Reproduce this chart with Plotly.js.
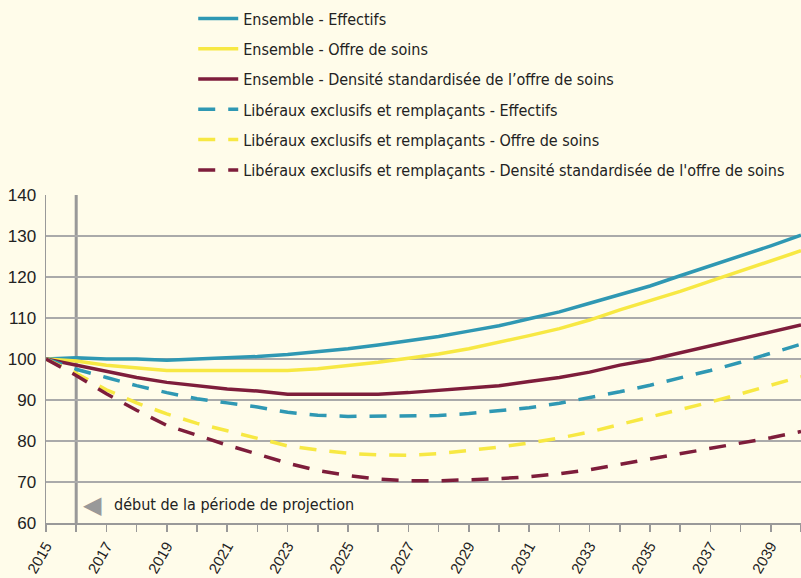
<!DOCTYPE html>
<html>
<head>
<meta charset="utf-8">
<script src="https://cdn.plot.ly/plotly-3.0.1.min.js"></script>
<style>
html,body{margin:0;padding:0;background:#fffcea;}
#chart{width:801px;height:578px;}
</style>
</head>
<body>
<div id="chart"></div>
<script>
const years = [2015,2016,2017,2018,2019,2020,2021,2022,2023,2024,2025,2026,2027,2028,2029,2030,2031,2032,2033,2034,2035,2036,2037,2038,2039,2040];

const ensEffectifs = [100,100.3,100,100,99.7,100,100.2,100.6,101.1,101.7,102.5,103.4,104.4,105.5,106.8,108.1,109.8,111.5,113.6,115.6,117.8,120.3,122.7,125.2,127.6,130.2];
const ensOffre = [100,99.5,98.5,97.8,97.2,97.2,97.2,97.2,97.2,97.6,98.3,99.2,100.2,101.2,102.5,104,105.7,107.4,109.5,112,114.2,116.5,119,121.5,123.8,126.4];
const ensDensite = [100,98.5,97,95.5,94.3,93.5,92.7,92.2,91.4,91.4,91.4,91.4,91.8,92.3,92.8,93.5,94.5,95.5,96.8,98.5,99.8,101.5,103.1,104.8,106.5,108.3];
const libEffectifs = [100,97.5,95.5,93.5,91.8,90.3,89.3,88.3,87.0,86.3,86.0,86,86,86.2,86.7,87.3,88.1,89.2,90.5,92,93.6,95.3,97.2,99.2,101.3,103.6];
const libOffre = [100,96.5,92.5,89.3,86.6,84.3,82.5,80.6,78.8,77.8,77.0,76.6,76.5,76.9,77.6,78.5,79.5,80.7,82.2,84,85.8,87.5,89.5,91.5,93.5,95.7];
const libDensite = [100,96,91.5,87.5,83.8,81.3,79,76.8,74.6,72.8,71.6,70.7,70.3,70.3,70.5,70.8,71.3,72,73,74.3,75.5,76.8,78,79.3,80.8,82.3];

const seriesNames = [
  "Ensemble - Effectifs",
  "Ensemble - Offre de soins",
  "Ensemble - Densité standardisée de l’offre de soins",
  "Libéraux exclusifs et remplaçants - Effectifs",
  "Libéraux exclusifs et remplaçants - Offre de soins",
  "Libéraux exclusifs et remplaçants - Densité standardisée de l'offre de soins"
];
const projectionStart = 2016;
const annotationText = "début de la période de projection";

const BLUE = "#2f98b3", YELLOW = "#f7e843", MAROON = "#7e1d3b";
const seriesData = [ensEffectifs, ensOffre, ensDensite, libEffectifs, libOffre, libDensite];
const colors = [BLUE, YELLOW, MAROON, BLUE, YELLOW, MAROON];
const dashes = ["solid","solid","solid","17px,13px","17px,13px","17px,13px"];

const traces = seriesData.map((d,i)=>({
  x: years, y: d, type: "scatter", mode: "lines", name: seriesNames[i],
  legendgroup: "g"+i,
  line: {color: colors[i], width: 3.5, dash: dashes[i]}
}));

const NARROW = '"Liberation Sans Narrow","Arial Narrow","DejaVu Sans Condensed",sans-serif';
const SANS = '"Liberation Sans",Arial,sans-serif';

const layout = {
  width: 801, height: 578,
  paper_bgcolor: "#fffcea", plot_bgcolor: "#fffcea",
  margin: {l: 46, r: 0, t: 195, b: 55},
  showlegend: true,
  legend: {x: 0.195, y: 1.59, xanchor: "left", yanchor: "top",
    font: {family: NARROW, size: 16, color: "#222"},
    bgcolor: "rgba(0,0,0,0)", tracegroupgap: 6.5, itemwidth: 40},
  xaxis: {range: [2015, 2040], tick0: 2015, dtick: 2, showgrid: false,
    ticks: "outside", ticklen: 7, tickwidth: 1.5, tickcolor: "#999",
    minor: {dtick: 1, tick0: 2015, ticks: "outside", ticklen: 7, tickwidth: 1.5, tickcolor: "#999", showgrid: false},
    showline: true, linecolor: "#999", linewidth: 1.5,
    tickangle: -60, tickfont: {family: SANS, size: 15, color: "#222"},
    zeroline: false, fixedrange: true},
  yaxis: {range: [60, 140], dtick: 10, showgrid: true, gridcolor: "#aaa", gridwidth: 1.5,
    showline: true, linecolor: "#999", linewidth: 1.5, ticks: "", ticklabelstandoff: 5,
    tickfont: {family: SANS, size: 17, color: "#222"}, zeroline: false, fixedrange: true},
  shapes: [{type: "line", xref: "x", yref: "paper", x0: projectionStart, x1: projectionStart, y0: 0, y1: 1,
    line: {color: "#999", width: 3}, layer: "below"}],
  annotations: [
    {xref: "x", yref: "y", x: projectionStart, y: 64.5, xanchor: "left", yanchor: "middle", xshift: 5,
     text: "◀", showarrow: false, font: {family: "DejaVu Sans", size: 24, color: "#999"}},
    {xref: "x", yref: "y", x: projectionStart, y: 64.5, xanchor: "left", yanchor: "middle", xshift: 36,
     text: annotationText, showarrow: false, font: {family: NARROW, size: 16, color: "#222"}}
  ]
};

Plotly.newPlot("chart", traces, layout, {staticPlot: true, displayModeBar: false});
</script>
</body>
</html>
